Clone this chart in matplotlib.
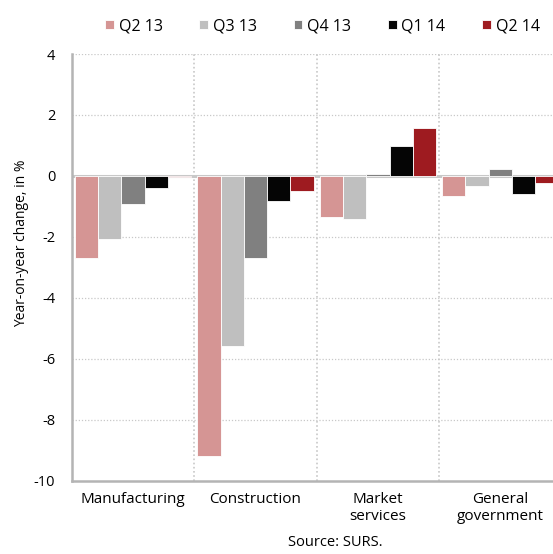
import numpy as np
import matplotlib.pyplot as plt

plt.rcParams['font.family'] = ['Open Sans', 'DejaVu Sans']
plt.rcParams['axes.unicode_minus'] = False

# year-on-year change in value added by sector, %
sectors = ["Manufacturing", "Construction", "Market\nservices", "General\ngovernment"]
quarters = ["Q2 13", "Q3 13", "Q4 13", "Q1 14", "Q2 14"]
q2_13 = [-2.68, -9.18, -1.33, -0.66]
q3_13 = [-2.07, -5.57, -1.40, -0.32]
q4_13 = [-0.91, -2.69, 0.07, 0.23]
q1_14 = [-0.41, -0.81, 0.98, -0.58]
q2_14 = [-0.03, -0.48, 1.57, -0.22]
series = [q2_13, q3_13, q4_13, q1_14, q2_14]
colours = ["#D59594", "#BFBFBF", "#808080", "#050505", "#9E1B20"]

fig = plt.figure(figsize=(5.53, 5.54), dpi=100)
ax = fig.add_axes([0.130, 0.132, 0.870, 0.7705])

x = np.arange(len(sectors))
w = 0.19
for i, (vals, col) in enumerate(zip(series, colours)):
    ax.bar(x + (i - 2) * w, vals, width=w, color=col, edgecolor="white",
           linewidth=0.6, label=quarters[i], zorder=3)

ax.set_xlim(-0.5, 3.43)
ax.set_ylim(-10, 4)
ax.set_yticks(range(-10, 5, 2))
ax.set_xticks(x)
ax.set_xticklabels(sectors, fontsize=11)
ax.tick_params(axis="x", length=0, pad=8)
ax.tick_params(axis="y", length=0, labelsize=10.5, pad=12)

# dotted grid and category separators
for yv in range(-8, 5, 2):
    if yv != 0:
        ax.axhline(yv, color="#c8c8c8", lw=0.9, ls=(0, (1, 1.5)), zorder=1)
for xv in [0.5, 1.5, 2.5]:
    ax.axvline(xv, color="#c8c8c8", lw=1.2, ls=(0, (1, 1.5)), zorder=1)
ax.axhline(0, color="#c8c8c8", lw=2.2, zorder=2)

for s in ["top", "right"]:
    ax.spines[s].set_visible(False)
ax.spines["left"].set_color("#b4b4b4")
ax.spines["left"].set_linewidth(1.8)
ax.spines["bottom"].set_color("#b4b4b4")
ax.spines["bottom"].set_linewidth(1.8)

ax.set_ylabel("Year-on-year change, in %", fontsize=10)
ax.yaxis.set_label_coords(-0.088, 0.557)

fig.legend(loc="upper center", bbox_to_anchor=(0.583, 0.993), ncol=5,
           frameon=False, fontsize=11.5, handlelength=0.55, handleheight=0.55,
           handletextpad=0.3, columnspacing=2.3)

fig.text(0.606, 0.008, "Source: SURS.", ha="center", va="bottom", fontsize=10.5)

fig.savefig("out.png", dpi=100)
